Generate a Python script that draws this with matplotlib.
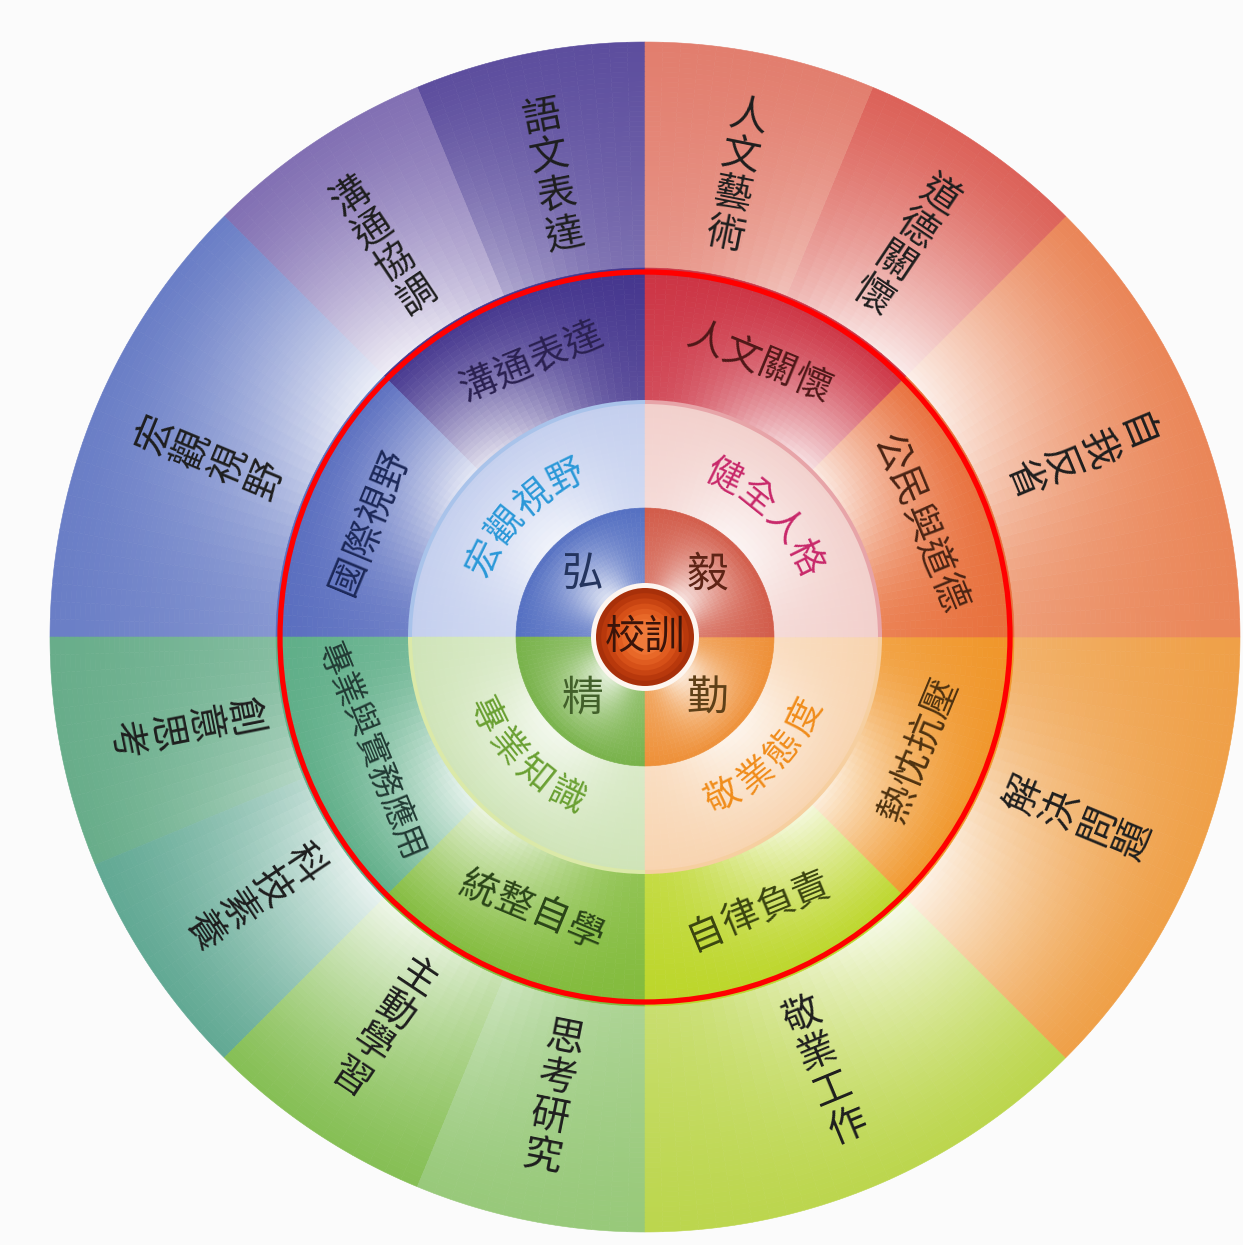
import numpy as np
import matplotlib
matplotlib.use("Agg")
import matplotlib.pyplot as plt
from matplotlib.colors import to_rgb
from matplotlib.patches import Circle

plt.rcParams['font.family'] = ['Noto Sans CJK TC', 'DejaVu Sans']

# ---------------- data ----------------
# outer ring (counter-clockwise from 12 o'clock), sizes in units of 22.5 deg
outer_labels = ['語文表達', '溝通協調', '宏觀視野', '創意思考', '科技素養', '主動學習',
                '思考研究', '敬業工作', '解決問題', '自我反省', '道德關懷', '人文藝術']
outer_sizes = [1, 1, 2, 1, 1, 1, 1, 2, 2, 2, 1, 1]
outer_colors = ['#5d4e9e', '#8270b3', '#6a7ec6', '#68ad8a', '#62a994', '#86bf55',
                '#98c97a', '#bcd64e', '#efa048', '#ea8658', '#dc6259', '#e27e6e']

# third ring
mid_labels = ['溝通表達', '國際視野', '專業與實務應用', '統整自學',
              '自律負責', '熱忱抗壓', '公民與道德', '人文關懷']
mid_sizes = [1, 1, 1, 1, 1, 1, 1, 1]
mid_colors = ['#45368e', '#5a6ebf', '#5fae88', '#82bb3c',
              '#bcd62a', '#f0962a', '#e8703c', '#cc3444']
mid_text_colors = ['#2a2050', '#1c2858', '#223a34', '#2a4418',
                   '#3a4410', '#4e3210', '#4a2414', '#4e1818']

# second ring
ring2_labels = ['宏觀視野', '專業知識', '敬業態度', '健全人格']
ring2_sizes = [1, 1, 1, 1]
ring2_colors = ['#c4cfee', '#cfe4b8', '#f8d4b0', '#f2d0cc']
ring2_border = ['#a9c3ea', '#dbe9a8', '#f6cfa0', '#e7a4a8']
ring2_text_colors = ['#2a98d8', '#6aa032', '#f08c1a', '#c8286a']

# core ring
core_labels = ['弘', '精', '勤', '毅']
core_sizes = [1, 1, 1, 1]
core_colors = ['#5570c2', '#78b24a', '#ee9038', '#d25c4a']
core_text_colors = ['#24345e', '#42602a', '#5e4018', '#5e2416']

center_label = '校訓'

# ---------------- geometry / style ----------------
R_OUT, R3, R2, R1, R0, RC = 595, 367, 235, 129, 53, 49
WHITE = np.array([1.0, 1.0, 1.0])

fig = plt.figure(figsize=(12.43, 12.45), dpi=100, facecolor='#fbfbfb')
ax = fig.add_axes([0, 0, 1, 1])
ax.set_facecolor('#fbfbfb')


def shade(base, t, ang, A, p, floor):
    d = abs((ang % 90.0) - 45.0)
    g = floor + (1 - floor) * (1 + np.cos(np.radians(4 * d))) / 2
    w = A * (1 - t) ** p * g
    return tuple(np.array(to_rgb(base)) * (1 - w) + WHITE * w)


def ring(sizes, colors, r_in, r_out, nrad, per_unit, A, p, floor):
    sizes = np.asarray(sizes, float)
    total = sizes.sum()
    subs, owner = [], []
    for i, s in enumerate(sizes):
        n = int(round(s * per_unit))
        subs += [s / n] * n
        owner += [i] * n
    subs = np.array(subs)
    cum = np.concatenate([[0], np.cumsum(subs)])
    ang_mid = 90 + 360 * (cum[:-1] + subs / 2) / total
    dr = (r_out - r_in) / nrad
    for k in range(nrad):
        R = r_out - k * dr
        t = (R - dr / 2 - r_in) / (r_out - r_in)
        cols = [shade(colors[o], t, a, A, p, floor) for o, a in zip(owner, ang_mid)]
        wedges, _ = ax.pie(subs, radius=R, colors=cols, startangle=90, counterclock=True,
                           wedgeprops=dict(width=dr * 1.05, linewidth=0))
        for w in wedges:
            w.set_edgecolor(w.get_facecolor())
            w.set_linewidth(0.4)


def centers(sizes):
    sizes = np.asarray(sizes, float)
    cum = np.concatenate([[0], np.cumsum(sizes)])
    return 90 + 360 * (cum[:-1] + sizes / 2) / sizes.sum()


def pol(r, a):
    return r * np.cos(np.radians(a)), r * np.sin(np.radians(a))


# rings
ring(outer_sizes, outer_colors, R3, R_OUT, 46, 13, 0.88, 1.3, 0.22)
ring(mid_sizes, mid_colors, R2, R3 + 2, 26, 26, 0.85, 1.2, 0.15)
ring(ring2_sizes, ring2_colors, R1, R2, 20, 40, 0.75, 1.0, 0.3)
ax.pie(ring2_sizes, radius=R2 + 2, colors=ring2_border, startangle=90, counterclock=True,
       wedgeprops=dict(width=4, linewidth=0))
ring(core_sizes, core_colors, R0, R1, 16, 40, 0.8, 1.0, 0.25)

# white halo + centre sphere
ax.add_patch(Circle((0, 0), R0 + 1, facecolor='#fdf6f0', edgecolor='none', zorder=3))
sphere = ['#a8300a', '#b8380c', '#c84412', '#d65018', '#e05c20', '#e86828', '#ee7232', '#f07a3a']
for i, c in enumerate(sphere):
    ax.add_patch(Circle((0, 0), RC * (1 - i / len(sphere) * 0.85), facecolor=c,
                        edgecolor='none', zorder=4))
ax.text(0, 0, center_label, fontsize=29, color='#3a140a', ha='center', va='center', zorder=6)

# red circle
ax.add_patch(Circle((0, 0), 365, facecolor='none', edgecolor='#ff0000', lw=3.8, zorder=5))

# outer ring text: vertical stacked characters
for lab, a in zip(outer_labels, centers(outer_sizes)):
    n = len(lab)
    top = np.sin(np.radians(a)) > 0
    for i, ch in enumerate(lab):
        off = (i - (n - 1) / 2) * 40
        r = 470 - off if top else 470 + off
        x, y = pol(r, a)
        rot = a - 90 if top else a + 90
        ax.text(x, y, ch, fontsize=28, color='#1e1e1e', rotation=rot,
                rotation_mode='anchor', ha='center', va='center', zorder=6)

# third ring text: straight tangential lines
for lab, a, tc in zip(mid_labels, centers(mid_sizes), mid_text_colors):
    n = len(lab)
    top = np.sin(np.radians(a)) > 0
    rot = a - 90 if top else a + 90
    sp = 38 if n <= 5 else 33
    fs = 27 if n <= 5 else 24
    cx, cy = pol(297, a)
    dx, dy = np.cos(np.radians(rot)), np.sin(np.radians(rot))
    for i, ch in enumerate(lab):
        off = (i - (n - 1) / 2) * sp
        ax.text(cx + off * dx, cy + off * dy, ch, fontsize=fs, color=tc, rotation=rot,
                rotation_mode='anchor', ha='center', va='center', zorder=6)

# second ring text: along the arc
for lab, a, tc in zip(ring2_labels, centers(ring2_sizes), ring2_text_colors):
    n = len(lab)
    top = np.sin(np.radians(a)) > 0
    for i, ch in enumerate(lab):
        off = (i - (n - 1) / 2) * 12.5
        ai = a - off if top else a + off
        rot = ai - 90 if top else ai + 90
        x, y = pol(178, ai)
        ax.text(x, y, ch, fontsize=26, color=tc, rotation=rot,
                rotation_mode='anchor', ha='center', va='center', zorder=6)

# core text
for lab, a, tc in zip(core_labels, centers(core_sizes), core_text_colors):
    x, y = pol(88, a)
    ax.text(x, y, lab, fontsize=30, color=tc, ha='center', va='center', zorder=6)

ax.set_xlim(-645, 598)
ax.set_ylim(-608, 637)
ax.set_aspect('auto')
ax.axis('off')
fig.savefig('out.png', dpi=100, facecolor=fig.get_facecolor())
